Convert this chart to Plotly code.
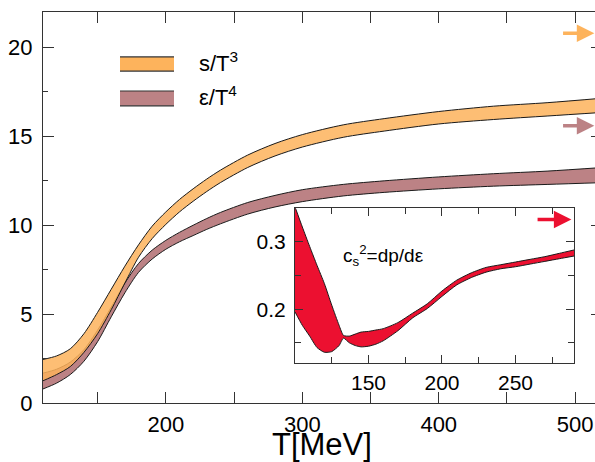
import plotly.graph_objects as go

# ---------------- data ----------------
T_main = [110, 120, 130, 140, 150, 160, 170, 180, 190, 200, 210, 220, 230, 240,
          260, 280, 300, 330, 360, 400, 440, 480, 520]

s_upper = [2.45, 2.65, 3.05, 3.9, 5.1, 6.4, 7.7, 8.9, 9.95, 10.75, 11.45, 12.05, 12.6, 13.1,
           13.95, 14.6, 15.1, 15.65, 16.0, 16.4, 16.7, 16.9, 17.15]
s_lower = [1.25, 1.6, 2.05, 2.85, 3.9, 5.25, 6.75, 8.2, 9.25, 10.05, 10.75, 11.35, 11.9, 12.4,
           13.25, 13.9, 14.4, 14.95, 15.3, 15.7, 15.95, 16.15, 16.35]

e_upper = [1.68, 1.9, 2.3, 3.0, 4.1, 5.4, 6.75, 7.85, 8.6, 9.15, 9.6, 10.0, 10.38, 10.72,
           11.28, 11.68, 12.0, 12.3, 12.5, 12.72, 12.9, 13.05, 13.25]
e_lower = [0.79, 1.12, 1.6, 2.35, 3.45, 4.85, 6.2, 7.35, 8.1, 8.65, 9.07, 9.42, 9.77, 10.08,
           10.63, 11.03, 11.33, 11.65, 11.85, 12.05, 12.2, 12.3, 12.4]

T_inset = [100, 105, 110, 115, 120, 125, 130, 133, 137, 141, 145, 150, 155, 160,
           170, 180, 190, 200, 210, 220, 230, 240, 250, 260, 270, 280, 290]
cs2_upper = [0.352, 0.322, 0.293, 0.265, 0.238, 0.206, 0.176, 0.161, 0.160, 0.163, 0.166,
             0.167, 0.169, 0.171, 0.180, 0.194, 0.208, 0.227, 0.243, 0.254, 0.262, 0.266,
             0.270, 0.274, 0.278, 0.283, 0.288]
cs2_lower = [0.196, 0.176, 0.160, 0.143, 0.136, 0.137, 0.146, 0.157, 0.150, 0.146, 0.144,
             0.145, 0.148, 0.153, 0.168, 0.187, 0.201, 0.219, 0.236, 0.247, 0.255, 0.260,
             0.263, 0.267, 0.271, 0.275, 0.279]

SB_s = 20.8       # Stefan-Boltzmann limit s/T^3
SB_e = 15.6       # Stefan-Boltzmann limit eps/T^4
SB_cs2 = 1 / 3    # conformal limit c_s^2

main_x_ticks = [200, 300, 400, 500]
main_y_ticks = [0, 5, 10, 15, 20]
inset_x_ticks = [150, 200, 250]
inset_y_ticks = [0.2, 0.3]

# ---------------- styles ----------------
ORANGE = "#FDB35C"
ORANGE_FILL = "rgba(253,179,92,0.85)"
MAUVE = "#BC8285"
RED = "#EC1030"
EDGE = "#1a1a1a"
AXC = "#333333"
FONT = "Liberation Sans, Arial, Helvetica, sans-serif"

fig = go.Figure()


def band(x, lo, hi, fill, xa="x", ya="y", smooth=0.8):
    fig.add_trace(go.Scatter(x=x, y=lo, mode="lines", xaxis=xa, yaxis=ya,
                             line=dict(color=EDGE, width=1, shape="spline", smoothing=smooth),
                             showlegend=False, hoverinfo="skip"))
    fig.add_trace(go.Scatter(x=x, y=hi, mode="lines", xaxis=xa, yaxis=ya, fill="tonexty",
                             fillcolor=fill,
                             line=dict(color=EDGE, width=1, shape="spline", smoothing=smooth),
                             showlegend=False, hoverinfo="skip"))


band(T_main, e_lower, e_upper, MAUVE)
band(T_main, s_lower, s_upper, ORANGE_FILL)
band(T_inset, cs2_lower, cs2_upper, RED, "x2", "y2", smooth=0.6)

# invisible trace for the right-hand tick axis
fig.add_trace(go.Scatter(x=[T_main[0]], y=[0], xaxis="x", yaxis="y3", mode="markers",
                         marker=dict(opacity=0), showlegend=False, hoverinfo="skip"))

tickfont = dict(family=FONT, size=22, color="black")
inset_tickfont = dict(family=FONT, size=21, color="black")

fig.update_layout(
    width=595, height=462,
    margin=dict(l=43, r=0, t=12, b=59),
    paper_bgcolor="white", plot_bgcolor="white",
    font=dict(family=FONT, color="black"),
    xaxis=dict(domain=[0, 1], range=[110, 514.5], showgrid=False, zeroline=False,
               showline=True, linecolor=AXC, linewidth=1.3, mirror="allticks",
               ticks="inside", ticklen=11, tickcolor=AXC, tickwidth=1.2,
               tickvals=main_x_ticks, tickfont=tickfont, ticklabelstandoff=1,
               minor=dict(dtick=50, ticks="inside", ticklen=5, tickcolor=AXC, tickwidth=1.2)),
    yaxis=dict(domain=[0, 1], range=[0, 22], showgrid=False, zeroline=False,
               showline=True, linecolor=AXC, linewidth=1.3, mirror=False,
               ticks="inside", ticklen=11, tickcolor=AXC, tickwidth=1.2,
               tickvals=main_y_ticks, tickfont=tickfont, ticklabelstandoff=5,
               minor=dict(dtick=2.5, ticks="inside", ticklen=5, tickcolor=AXC, tickwidth=1.2)),
    yaxis3=dict(overlaying="y", side="right", anchor="x", range=[0, 22], showgrid=False,
                zeroline=False, showline=False, ticks="inside", ticklen=4, tickcolor=AXC,
                tickwidth=1.2, tickvals=main_y_ticks, showticklabels=False),
    xaxis2=dict(domain=[0.4565, 0.9625], anchor="y2", range=[100, 290], showgrid=False,
                zeroline=False, showline=True, linecolor=AXC, linewidth=1.2, mirror="allticks",
                ticks="inside", ticklen=8, tickcolor=AXC, tickwidth=1.1,
                tickvals=inset_x_ticks, tickfont=inset_tickfont, ticklabelstandoff=1,
                minor=dict(dtick=25, ticks="inside", ticklen=6, tickcolor=AXC, tickwidth=1.1)),
    yaxis2=dict(domain=[0.1022, 0.4983], anchor="x2", range=[0.12, 0.35], showgrid=False,
                zeroline=False, showline=True, linecolor=AXC, linewidth=1.2, mirror="allticks",
                ticks="inside", ticklen=8, tickcolor=AXC, tickwidth=1.1,
                tickvals=inset_y_ticks, tickfont=inset_tickfont, ticklabelstandoff=4,
                minor=dict(dtick=0.05, ticks="inside", ticklen=6, tickcolor=AXC, tickwidth=1.1)),
)

# inset white background
fig.add_shape(type="rect", xref="x2 domain", yref="y2 domain", x0=0, x1=1, y0=0, y1=1,
              fillcolor="white", line=dict(width=0), layer="below")

annotations = [
    # x-axis title
    dict(text="T[MeV]", xref="paper", yref="paper", x=0.506, y=-0.107, showarrow=False,
         xanchor="center", yanchor="middle", font=dict(family=FONT, size=31, color="black")),
    # legend texts
    dict(text="s/T<sup>3</sup>", xref="paper", yref="paper", x=0.279, y=0.872, showarrow=False,
         xanchor="left", yanchor="middle", font=dict(family=FONT, size=22, color="black")),
    dict(text="ε/T<sup>4</sup>", xref="paper", yref="paper", x=0.279, y=0.785, showarrow=False,
         xanchor="left", yanchor="middle", font=dict(family=FONT, size=22, color="black")),
    # inset label
    dict(text="c<sub>s</sub><sup>2</sup>=dp/dε", xref="x2", yref="y2", x=131.5, y=0.279,
         showarrow=False, xanchor="left", yanchor="middle",
         font=dict(family=FONT, size=19, color="black")),
    # SB arrows
    dict(x=514, y=SB_s, ax=490, ay=SB_s, xref="x", yref="y", axref="x", ayref="y",
         showarrow=True, arrowhead=2, arrowsize=1, arrowwidth=3.5, arrowcolor=ORANGE, text=""),
    dict(x=514, y=SB_e, ax=490, ay=SB_e, xref="x", yref="y", axref="x", ayref="y",
         showarrow=True, arrowhead=2, arrowsize=1, arrowwidth=3.5, arrowcolor=MAUVE, text=""),
    dict(x=288, y=SB_cs2, ax=264, ay=SB_cs2, xref="x2", yref="y2", axref="x2", ayref="y2",
         showarrow=True, arrowhead=2, arrowsize=1, arrowwidth=3.5, arrowcolor=RED, text=""),
]
fig.update_layout(annotations=annotations)

# legend swatches (decoration)
for (y0, y1, col) in [(0.849, 0.885, ORANGE), (0.760, 0.798, MAUVE)]:
    fig.add_shape(type="rect", xref="paper", yref="paper", x0=0.1395, x1=0.2373, y0=y0, y1=y1,
                  fillcolor=col, line=dict(width=0))
    for yy in (y0, y1):
        fig.add_shape(type="line", xref="paper", yref="paper", x0=0.1395, x1=0.2373,
                      y0=yy, y1=yy, line=dict(color="#333333", width=1.2))

fig.write_html("out.html", config={"displayModeBar": False},
               post_script="document.body.style.margin='0';document.body.style.overflow='hidden';")
